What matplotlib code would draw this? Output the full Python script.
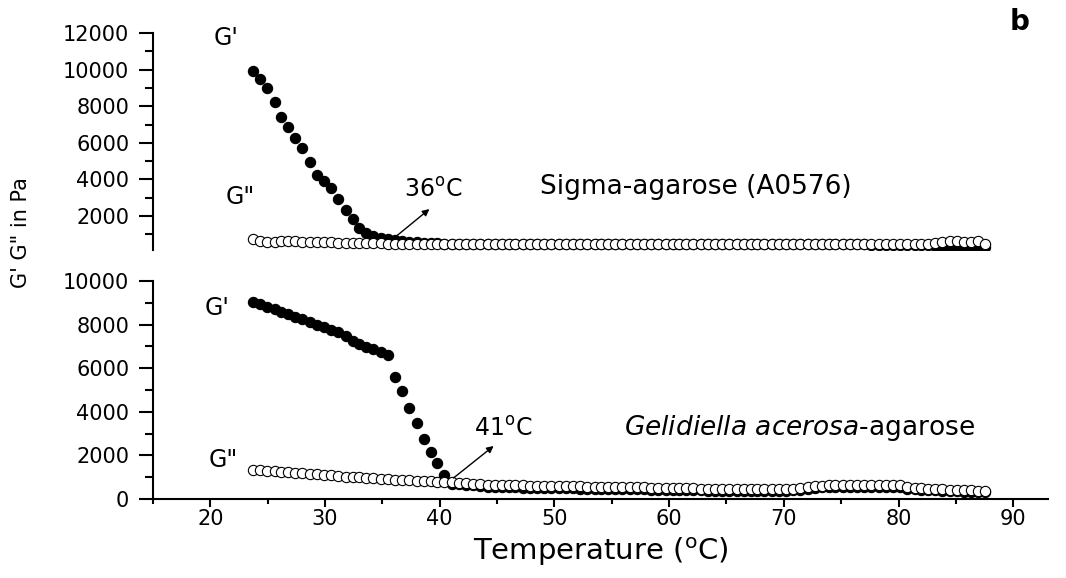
import matplotlib
matplotlib.use('Agg')
import matplotlib.pyplot as plt
from matplotlib.ticker import MultipleLocator

# ---------- global style ----------
plt.rcParams['font.family'] = 'DejaVu Sans'
plt.rcParams['mathtext.fontset'] = 'dejavusans'
plt.rcParams['axes.linewidth'] = 1.5

# ---------- data: temperature sweep (deg C), moduli in Pa ----------
temp = [
    23.7, 24.3, 24.9, 25.6, 26.2, 26.8, 27.4, 28.0, 28.7, 29.3,
    29.9, 30.5, 31.1, 31.8, 32.4, 33.0, 33.6, 34.2, 34.9, 35.5,
    36.1, 36.7, 37.3, 38.0, 38.6, 39.2, 39.8, 40.4, 41.1, 41.7,
    42.3, 42.9, 43.5, 44.2, 44.8, 45.4, 46.0, 46.6, 47.3, 47.9,
    48.5, 49.1, 49.7, 50.4, 51.0, 51.6, 52.2, 52.8, 53.5, 54.1,
    54.7, 55.3, 55.9, 56.6, 57.2, 57.8, 58.4, 59.0, 59.7, 60.3,
    60.9, 61.5, 62.1, 62.8, 63.4, 64.0, 64.6, 65.2, 65.9, 66.5,
    67.1, 67.7, 68.3, 69.0, 69.6, 70.2, 70.8, 71.4, 72.1, 72.7,
    73.3, 73.9, 74.5, 75.2, 75.8, 76.4, 77.0, 77.6, 78.3, 78.9,
    79.5, 80.1, 80.7, 81.4, 82.0, 82.6, 83.2, 83.8, 84.5, 85.1,
    85.7, 86.3, 86.9, 87.5,
]

# Sigma-agarose (A0576)
sigma_g1 = [
    9950, 9480, 8990, 8220, 7400, 6870, 6260, 5740, 4930, 4270,
    3930, 3530, 2960, 2350, 1860, 1360, 1100, 935, 815, 740,
    685, 640, 600, 570, 550, 530, 515, 500, 490, 480,
    470, 465, 462, 460, 462, 460, 458, 460, 460, 458,
    460, 460, 458, 455, 458, 460, 460, 458, 455, 455,
    458, 460, 460, 458, 455, 455, 458, 460, 458, 455,
    455, 458, 458, 455, 452, 455, 458, 460, 458, 455,
    455, 458, 460, 460, 458, 460, 462, 460, 460, 462,
    460, 458, 455, 452, 450, 450, 448, 445, 445, 442,
    440, 430, 420, 420, 410, 400, 390, 330, 320, 320,
    340, 330, 300, 310,
]
sigma_g2 = [
    720, 640, 610, 600, 630, 650, 630, 560, 560, 570,
    560, 560, 550, 550, 540, 530, 530, 520, 510, 500,
    490, 490, 485, 480, 480, 478, 475, 475, 472, 470,
    470, 470, 468, 470, 472, 470, 468, 470, 470, 468,
    470, 470, 468, 465, 468, 470, 470, 468, 465, 465,
    468, 470, 470, 468, 465, 465, 468, 470, 468, 465,
    465, 468, 468, 465, 462, 465, 468, 470, 468, 465,
    465, 468, 470, 470, 468, 470, 472, 470, 470, 472,
    475, 478, 480, 478, 480, 482, 480, 478, 480, 482,
    480, 478, 480, 482, 490, 500, 520, 600, 640, 620,
    600, 560, 640, 460,
]

# Gelidiella acerosa-agarose
gel_g1 = [
    9050, 8940, 8820, 8700, 8590, 8470, 8360, 8250, 8110, 8000,
    7890, 7770, 7650, 7480, 7240, 7110, 6990, 6860, 6720, 6600,
    5610, 4970, 4160, 3470, 2740, 2140, 1670, 1100, 700, 680,
    650, 620, 590, 570, 550, 540, 535, 530, 520, 515,
    510, 505, 500, 495, 490, 485, 480, 478, 475, 472,
    470, 465, 460, 455, 450, 440, 430, 425, 420, 410,
    405, 400, 395, 390, 385, 380, 375, 370, 368, 365,
    362, 365, 368, 372, 375, 380, 390, 410, 450, 500,
    530, 540, 550, 555, 560, 565, 565, 560, 560, 560,
    560, 540, 480, 440, 420, 400, 390, 375, 360, 350,
    340, 330, 320, 310,
]
gel_g2 = [
    1350, 1330, 1300, 1280, 1260, 1230, 1200, 1180, 1160, 1130,
    1100, 1080, 1050, 1030, 1010, 990, 960, 940, 920, 900,
    880, 860, 850, 840, 830, 810, 800, 790, 760, 740,
    720, 700, 680, 660, 650, 640, 640, 630, 620, 610,
    610, 600, 600, 590, 580, 580, 575, 570, 570, 565,
    560, 555, 550, 545, 540, 530, 520, 515, 510, 500,
    495, 490, 485, 480, 470, 465, 460, 455, 450, 450,
    445, 450, 455, 460, 465, 470, 480, 500, 540, 590,
    610, 620, 630, 640, 650, 655, 655, 650, 650, 650,
    660, 630, 560, 520, 500, 480, 470, 450, 430, 420,
    400, 390, 380, 370,
]

# ---------- figure with two stacked panels ----------
fig = plt.figure(figsize=(10.66, 5.78), dpi=100)
ax_top = fig.add_axes([0.1435, 0.5676, 0.8393, 0.3752])
ax_bot = fig.add_axes([0.1435, 0.1367, 0.8393, 0.3772])

filled = dict(linestyle='none', marker='o', markersize=7.4,
              markerfacecolor='black', markeredgecolor='black', markeredgewidth=0.8)
hollow = dict(linestyle='none', marker='o', markersize=7.4,
              markerfacecolor='white', markeredgecolor='black', markeredgewidth=0.8)

ax_top.plot(temp, sigma_g1, **filled)
ax_top.plot(temp, sigma_g2, **hollow)
ax_bot.plot(temp, gel_g1, **filled)
ax_bot.plot(temp, gel_g2, **hollow)

for ax in (ax_top, ax_bot):
    ax.set_xlim(15, 93)
    ax.spines['top'].set_visible(False)
    ax.spines['right'].set_visible(False)
    ax.yaxis.set_major_locator(MultipleLocator(2000))
    ax.yaxis.set_minor_locator(MultipleLocator(1000))
    ax.tick_params(axis='y', which='major', direction='out', length=10, width=1.5,
                   pad=7, labelsize=15)
    ax.tick_params(axis='y', which='minor', direction='out', length=5.5, width=1.5)

ax_top.set_ylim(150, 12000)
ax_top.spines['bottom'].set_visible(False)
ax_top.tick_params(axis='x', which='both', bottom=False, labelbottom=False)

ax_bot.set_ylim(0, 10000)
ax_bot.xaxis.set_major_locator(MultipleLocator(10))
ax_bot.xaxis.set_minor_locator(MultipleLocator(5))
ax_bot.tick_params(axis='x', which='major', direction='out', length=6, width=1.5,
                   pad=1, labelsize=15)
ax_bot.tick_params(axis='x', which='minor', direction='out', length=3.5, width=1.5)
ax_bot.set_xlabel(r'Temperature ($^{\rm o}$C)', fontsize=21, labelpad=5)

# ---------- annotations ----------
ax_top.text(21.4, 11344, "G'", fontsize=17, ha='center', va='baseline')
ax_top.text(22.6, 2656, 'G"', fontsize=17, ha='center', va='baseline')
ax_top.text(39.4, 3038, r'36$^{\rm o}$C', fontsize=17, ha='center', va='baseline')
ax_top.text(62.3, 3202, 'Sigma-agarose (A0576)', fontsize=19, ha='center', va='baseline')
ax_top.annotate('', xy=(39.1, 2383), xytext=(35.8, 689),
                arrowprops=dict(arrowstyle='-|>', lw=1, color='black',
                                mutation_scale=10, shrinkA=0, shrinkB=0))

ax_bot.text(20.6, 8440, "G'", fontsize=17, ha='center', va='baseline')
ax_bot.text(21.1, 1468, 'G"', fontsize=17, ha='center', va='baseline')
ax_bot.text(45.5, 2890, r'41$^{\rm o}$C', fontsize=17, ha='center', va='baseline')
ax_bot.text(71.4, 2936, r'$\mathit{Gelidiella\ acerosa}$-agarose', fontsize=19,
            ha='center', va='baseline')
ax_bot.annotate('', xy=(44.7, 2431), xytext=(41.2, 963),
                arrowprops=dict(arrowstyle='-|>', lw=1, color='black',
                                mutation_scale=10, shrinkA=0, shrinkB=0))

fig.text(21 / 1066, 1 - 233 / 578, 'G\' G" in Pa', rotation=90, fontsize=15,
         ha='center', va='center')
fig.text(1020 / 1066, 1 - 22 / 578, 'b', fontsize=20, fontweight='bold',
         ha='center', va='center')

fig.savefig('out.png', dpi=100)
